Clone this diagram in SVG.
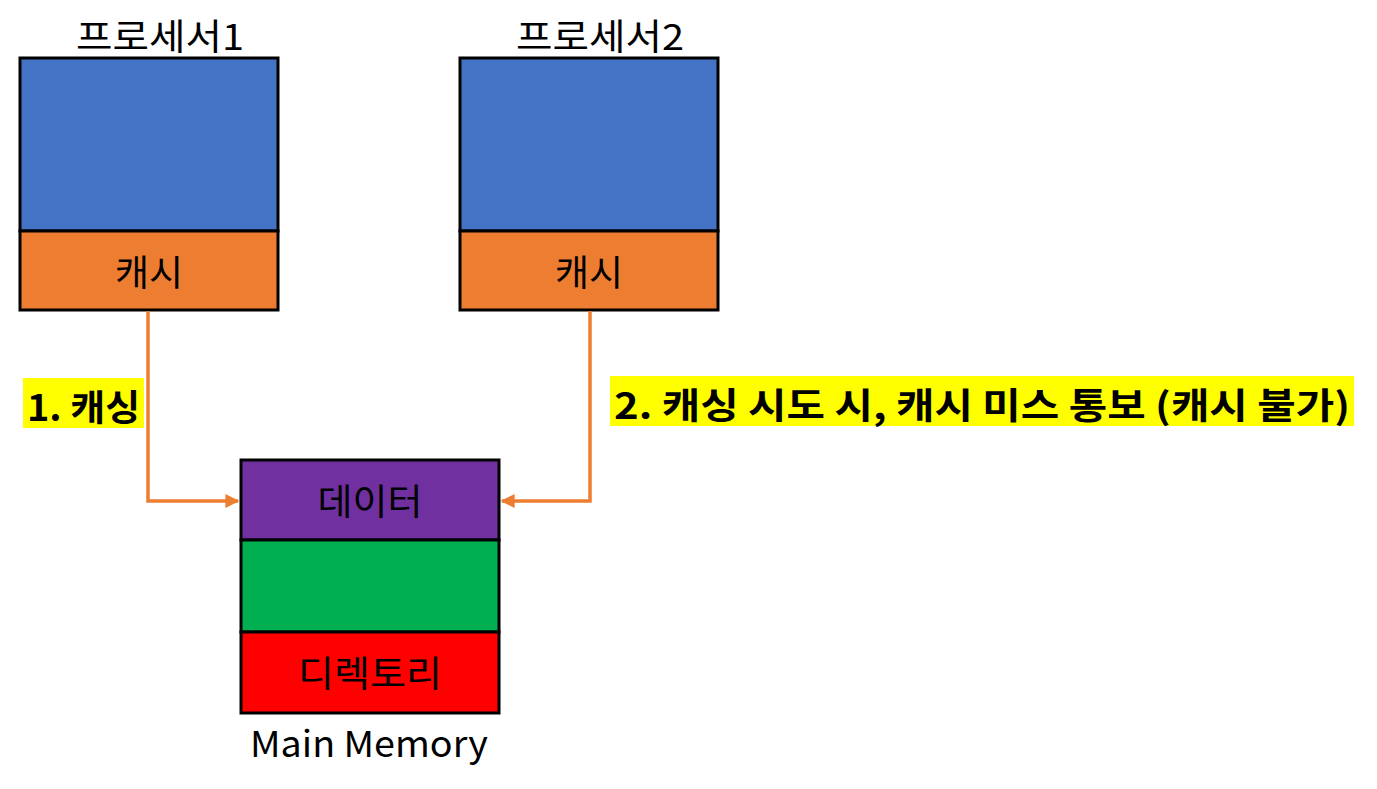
<svg xmlns="http://www.w3.org/2000/svg" width="1377" height="789" viewBox="0 0 1377 789">
<defs>
<style>
.t{font-family:"Malgun Gothic","Noto Sans CJK KR",sans-serif;font-size:36px;fill:#000;text-anchor:middle}
.b{font-family:"Malgun Gothic","Noto Sans CJK KR",sans-serif;font-size:36px;font-weight:bold;fill:#000}
.box{stroke:#000;stroke-width:3}
.conn{fill:none;stroke:#ED7D31;stroke-width:3.5}
.hl{fill:#FFFF00}
</style>
<marker id="arr" viewBox="0 0 10 10" refX="9" refY="5" markerWidth="4" markerHeight="4" orient="auto-start-reverse" markerUnits="strokeWidth">
<path d="M0,0 L10,5 L0,10 Z" fill="#ED7D31"/>
</marker>
</defs>
<rect width="1377" height="789" fill="#fff"/>
<g id="processor1">
<text class="t" x="160" y="50" textLength="168" lengthAdjust="spacingAndGlyphs">프로세서1</text>
<rect class="box" x="20" y="58" width="258" height="173" fill="#4472C4"/>
<rect class="box" x="20" y="231" width="258" height="79" fill="#ED7D31"/>
<text class="t" x="149" y="286" textLength="68" lengthAdjust="spacingAndGlyphs">캐시</text>
</g>
<g id="processor2">
<text class="t" x="600" y="50" textLength="168" lengthAdjust="spacingAndGlyphs">프로세서2</text>
<rect class="box" x="460" y="58" width="258" height="173" fill="#4472C4"/>
<rect class="box" x="460" y="231" width="258" height="79" fill="#ED7D31"/>
<text class="t" x="589" y="286" textLength="68" lengthAdjust="spacingAndGlyphs">캐시</text>
</g>
<g id="main-memory">
<rect class="box" x="241" y="460" width="258" height="80" fill="#7030A0"/>
<rect class="box" x="241" y="540" width="258" height="92" fill="#00B050"/>
<rect class="box" x="241" y="632" width="258" height="81" fill="#FF0000"/>
<text class="t" x="370" y="515" textLength="105" lengthAdjust="spacingAndGlyphs">데이터</text>
<text class="t" x="370" y="687" textLength="144" lengthAdjust="spacingAndGlyphs">디렉토리</text>
<text class="t" x="369" y="757" textLength="238" lengthAdjust="spacingAndGlyphs">Main Memory</text>
</g>
<g id="connectors">
<path class="conn" d="M148,311 V501 H238" marker-end="url(#arr)"/>
<path class="conn" d="M590,311 V501 H502" marker-end="url(#arr)"/>
</g>
<g id="label1">
<rect class="hl" x="23" y="378" width="121" height="50"/>
<text class="b" x="27" y="421" textLength="113" lengthAdjust="spacingAndGlyphs">1. 캐싱</text>
</g>
<g id="label2">
<rect class="hl" x="610" y="376" width="744" height="50"/>
<text class="b" x="614" y="419" textLength="736" lengthAdjust="spacingAndGlyphs">2. 캐싱 시도 시, 캐시 미스 통보 (캐시 불가)</text>
</g>
</svg>
